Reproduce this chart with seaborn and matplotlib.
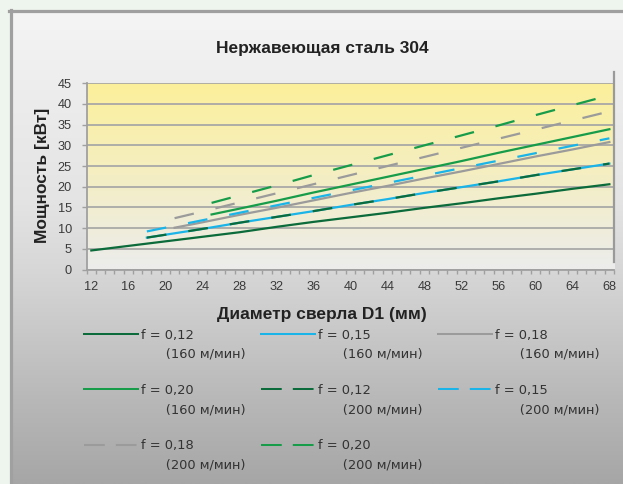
import numpy as np
import pandas as pd
import matplotlib
matplotlib.use("Agg")
import matplotlib.pyplot as plt
from matplotlib.lines import Line2D
from matplotlib.legend_handler import HandlerLine2D
from matplotlib.transforms import Affine2D
from matplotlib.ticker import MultipleLocator
import seaborn as sns

# ---- data: spindle power (kW) vs drill diameter D1 (mm) ----
d_from_12 = [12, 16, 20, 24, 28, 32, 36, 40, 44, 48, 52, 56, 60, 64, 68]
d_from_18 = [18, 20, 24, 28, 32, 36, 40, 44, 48, 52, 56, 60, 64, 68]
d_from_21 = [21, 24, 28, 32, 36, 40, 44, 48, 52, 56, 60, 64, 68]
d_from_25 = [25, 28, 32, 36, 40, 44, 48, 52, 56, 60, 64, 68]

# cutting speed 160 m/min
p_012_160 = [4.6, 5.7, 6.8, 7.9, 9.0, 10.3, 11.5, 12.6, 13.7, 14.9, 16.0, 17.2, 18.3, 19.5, 20.6]
p_015_160 = [7.7, 8.4, 9.8, 11.3, 12.7, 14.1, 15.6, 17.0, 18.5, 19.9, 21.3, 22.8, 24.2, 25.6]
p_018_160 = [10.1, 11.4, 13.2, 14.9, 16.7, 18.5, 20.2, 22.0, 23.7, 25.5, 27.3, 29.0, 30.8]
p_020_160 = [13.3, 14.7, 16.6, 18.6, 20.5, 22.4, 24.3, 26.2, 28.2, 30.1, 32.0, 33.9]
# cutting speed 200 m/min
p_012_200 = [7.7, 8.4, 9.8, 11.3, 12.7, 14.1, 15.6, 17.0, 18.5, 19.9, 21.3, 22.8, 24.2, 25.6]
p_015_200 = [9.2, 10.1, 11.9, 13.7, 15.5, 17.3, 19.1, 20.9, 22.7, 24.5, 26.3, 28.1, 29.9, 31.7]
p_018_200 = [12.4, 14.0, 16.2, 18.4, 20.6, 22.8, 25.0, 27.2, 29.4, 31.6, 33.8, 36.0, 38.2]
p_020_200 = [16.1, 17.9, 20.3, 22.8, 25.2, 27.6, 30.0, 32.4, 34.8, 37.3, 39.7, 42.1]

feeds = ["0,12", "0,15", "0,18", "0,20"]
speeds = [160, 200]
x_ticks = list(range(12, 69, 4))
y_ticks = list(range(0, 46, 5))

series = [
    (feeds[0], speeds[0], d_from_12, p_012_160),
    (feeds[1], speeds[0], d_from_18, p_015_160),
    (feeds[2], speeds[0], d_from_21, p_018_160),
    (feeds[3], speeds[0], d_from_25, p_020_160),
    (feeds[0], speeds[1], d_from_18, p_012_200),
    (feeds[1], speeds[1], d_from_18, p_015_200),
    (feeds[2], speeds[1], d_from_21, p_018_200),
    (feeds[3], speeds[1], d_from_25, p_020_200),
]

feed_colors = {"0,12": "#0b6b3a", "0,15": "#1ab4e8", "0,18": "#9b9b9b", "0,20": "#179c4a"}


def label_for(f, v):
    return f"f = {f}\n      ({v} м/мин)"


rows = []
for f, v, d, p in series:
    for di, pi in zip(d, p):
        rows.append({"D": di, "P": pi, "series": label_for(f, v)})
df = pd.DataFrame(rows)
labels = [label_for(f, v) for f, v, _, _ in series]
palette = {label_for(f, v): feed_colors[f] for f, v, _, _ in series}
dash_map = {label_for(f, v): ("" if v == 160 else (8.9, 10.0)) for f, v, _, _ in series}

plt.rcParams["font.family"] = ["Liberation Sans", "DejaVu Sans"]

W, H = 623, 484
fig = plt.figure(figsize=(W / 100, H / 100), dpi=100)
fig.patch.set_facecolor("#eef4ee")

# grey framed panel with a vertical shading
px0, py0 = 10.5, 10.5
panel = fig.add_axes([px0 / W, 0, 1 - px0 / W, 1 - py0 / H], zorder=-5)
ys = np.array([10, 100, 200, 270, 300, 400, 484])
gs = np.array([245, 236, 228, 215, 208, 184, 166]) / 255
rr = np.linspace(py0, H, 300)
col = np.interp(rr, ys, gs)
panel.imshow(np.repeat(col[:, None, None], 3, axis=2), aspect="auto",
             extent=(0, 1, 0, 1), transform=panel.transAxes)
panel.axis("off")
fig.add_artist(Line2D([px0 / W - 0.002, 1], [1 - py0 / H] * 2, color="#a0a0a0",
                      lw=2.3, transform=fig.transFigure))
fig.add_artist(Line2D([px0 / W] * 2, [0, 1 - py0 / H + 0.002], color="#a0a0a0",
                      lw=2.3, transform=fig.transFigure))

# plotting area
L, R, T, B = 86.7, 614.0, 83.3, 269.5
ax = fig.add_axes([L / W, 1 - B / H, (R - L) / W, (B - T) / H])
ax.patch.set_alpha(0)
top_c = np.array([252, 240, 154]) / 255
bot_c = np.array([236, 236, 236]) / 255
t = np.linspace(0, 1, 200)[:, None]
bg = (top_c * (1 - t) + bot_c * t)[:, None, :]
ax.imshow(bg, aspect="auto", extent=(11.5, 68.5, 0, 45), zorder=0.1, origin="upper")

sns.lineplot(data=df, x="D", y="P", hue="series", style="series",
             hue_order=labels, style_order=labels, palette=palette,
             dashes=dash_map, linewidth=1.6, estimator=None, legend=False, ax=ax)

ax.set_xlim(11.5, 68.5)
ax.set_ylim(0, 45)
ax.set_axisbelow(True)
ax.set_yticks(y_ticks)
ax.yaxis.grid(True, color="#a6a6a6", lw=1.25)
ax.xaxis.grid(False)
ax.set_xticks(x_ticks)
ax.xaxis.set_minor_locator(MultipleLocator(1, offset=0.5))
for s in ("top", "right"):
    ax.spines[s].set_visible(False)
for s in ("left", "bottom"):
    ax.spines[s].set_color("#a0a0a0")
    ax.spines[s].set_linewidth(1.3)
ax.tick_params(axis="y", length=3.6, width=1, color="#a0a0a0", pad=7,
               labelsize=9.2, labelcolor="#3a3a3a")
ax.tick_params(axis="x", which="major", length=0, pad=8,
               labelsize=9.2, labelcolor="#3a3a3a")
ax.tick_params(axis="x", which="minor", length=3, width=1, color="#a0a0a0")
ax.axvline(68.5, ymin=0.04, ymax=1.06, clip_on=False, color="#9a9a9a", lw=1.6)

ax.set_xlabel("Диаметр сверла D1 (мм)", fontsize=12.5, fontweight="bold", color="#222222")
ax.xaxis.label.set_verticalalignment("baseline")
ax.xaxis.set_label_coords((322 - L) / (R - L), -(319.5 - B) / (B - T))
ax.set_ylabel("Мощность [кВт]", fontsize=12.5, fontweight="bold", color="#222222")
ax.yaxis.label.set_verticalalignment("baseline")
ax.yaxis.set_label_coords((46.7 - L) / (R - L), (B - 175) / (B - T))

fig.text(322 / W, 1 - 53 / H, "Нержавеющая сталь 304", ha="center", va="baseline",
         fontsize=12.5, fontweight="bold", color="#222222")


class RaisedLine(HandlerLine2D):
    """Legend line placed level with the first line of a two-line label."""

    def __init__(self, lift, **kw):
        super().__init__(**kw)
        self.lift = lift

    def create_artists(self, legend, orig_handle, xdescent, ydescent,
                       width, height, fontsize, trans):
        trans = Affine2D().translate(0, self.lift) + trans
        return super().create_artists(legend, orig_handle, xdescent, ydescent,
                                      width, height, fontsize, trans)


handles = []
for f, v, _, _ in series:
    if v == 160:
        h = Line2D([], [], color=feed_colors[f], lw=1.45, linestyle="-")
    else:
        h = Line2D([], [], color=feed_colors[f], lw=1.45, linestyle=(0, (10.3, 5.5)))
    handles.append(h)

order = [0, 3, 6, 1, 4, 7, 2, 5]
leg = fig.legend([handles[i] for i in order], [labels[i] for i in order],
                 handler_map={Line2D: RaisedLine(7.9)},
                 loc="upper left", bbox_to_anchor=(84 / W, 1 - 328.5 / H),
                 ncol=3, frameon=False, borderpad=0, borderaxespad=0,
                 handlelength=4.15, handletextpad=0.18, columnspacing=1.22,
                 labelspacing=1.78, prop={"family": "DejaVu Sans", "size": 9.4})
for txt in leg.get_texts():
    txt.set_linespacing(1.62)
    txt.set_color("#333333")

fig.savefig("out.png", dpi=100)
